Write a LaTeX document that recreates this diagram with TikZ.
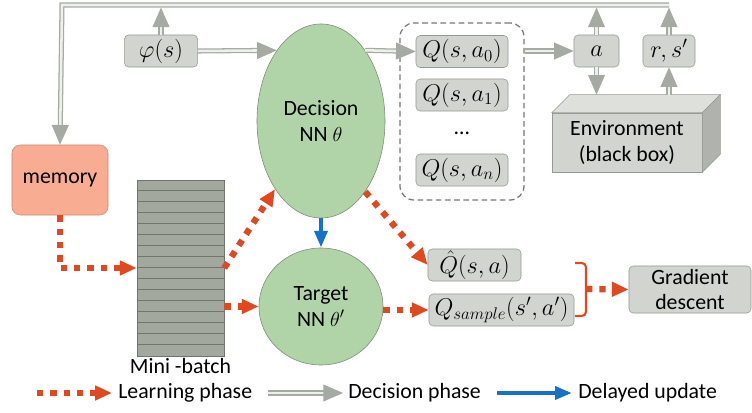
\documentclass[tikz,border=0pt]{standalone}
\usepackage{fontspec}
\setmainfont{Carlito}
\usetikzlibrary{arrows.meta, positioning, shapes.geometric}
\definecolor{boxgray}{RGB}{210,212,208}
\definecolor{boxline}{RGB}{150,153,148}
\definecolor{nngreen}{RGB}{176,211,168}
\definecolor{nnline}{RGB}{128,136,124}
\definecolor{memfill}{RGB}{248,173,146}
\definecolor{memline}{RGB}{196,140,118}
\definecolor{batchfill}{RGB}{163,168,158}
\definecolor{batchline}{RGB}{112,117,110}
\definecolor{lred}{RGB}{226,72,32}
\definecolor{ublue}{RGB}{22,114,200}
\definecolor{dline}{RGB}{165,170,162}
\definecolor{dinner}{RGB}{238,240,236}
\definecolor{envtopc}{RGB}{222,224,220}
\definecolor{envside}{RGB}{176,179,173}

\begin{document}
\begin{tikzpicture}[
    x=0.025cm, y=-0.025cm,
    font=\fontsize{15.5}{18}\selectfont,
    greybox/.style={rectangle, rounded corners=3pt, draw=boxline, fill=boxgray, minimum height=0.8cm, inner sep=1pt, align=center, font=\fontsize{17.5}{20}\selectfont},
    nnnode/.style={ellipse, draw=nnline, fill=nngreen, align=center, inner sep=0pt},
    learn/.style={draw=lred, line width=4.5pt, dash pattern=on 4.5pt off 5pt, -{Triangle[length=12pt,width=10pt]}},
    decide/.style={draw=dline, double=dinner, line width=0.9pt, double distance=1.8pt, -{Triangle[length=14pt,width=12pt,fill=dline]}},
    update/.style={draw=ublue, line width=3pt, -{Triangle[length=12pt,width=9pt]}},
    legendtext/.style={inner sep=0pt, anchor=west}
]
\useasboundingbox (0,0) rectangle (752,413);

% networks
\node[nnnode, minimum width=3.2cm, minimum height=4.85cm] (decision) at (321,121) {Decision\\NN $\theta$};
\node[nnnode, minimum width=3.1cm, minimum height=2.925cm] (target) at (321,306.5) {Target\\NN $\theta'$};

% boxes
\node[greybox, minimum width=1.83cm] (phi) at (161,51) {$\varphi(s)$};
\node[draw=boxline!80!black, dashed, dash pattern=on 4pt off 2.5pt, line width=0.9pt, rounded corners=0.35cm, minimum width=3.1cm, minimum height=4.425cm] (qgroup) at (462,111.5) {};
\node[greybox, minimum width=2.3cm] (q0) at (462,51.5) {$Q(s,a_0)$};
\node[greybox, minimum width=2.3cm] (q1) at (462,95) {$Q(s,a_1)$};
\node (qdots) at (462,133) {\dots};
\node[greybox, minimum width=2.3cm] (qn) at (462,170) {$Q(s,a_n)$};
\node[greybox, minimum width=1.125cm] (act) at (596.5,51) {$a$};
\node[greybox, minimum width=1.3cm] (rs) at (669,51) {$r,s'$};
\node[greybox, minimum width=2.325cm] (qhat) at (474.5,265) {$\hat{Q}(s,a)$};
\node[greybox, minimum width=3.625cm] (qsample) at (501.5,310) {$Q_{sample}(s',a')$};
\node[greybox, minimum width=3.05cm, minimum height=1.175cm, font=\fontsize{15.5}{18}\selectfont] (grad) at (690,289.5) {Gradient\\descent};
\node[rectangle, rounded corners=6pt, draw=memline, fill=memfill, minimum width=2.4cm, minimum height=1.75cm] (memory) at (60,180) {memory};

% environment block
\node[rectangle, draw=boxline, fill=boxgray, minimum width=3.75cm, minimum height=1.475cm, align=center] (env) at (627,142.5) {Environment\\(black box)};
\draw[boxline, fill=envtopc] (env.north west) -- ++(18,-18) coordinate (envbl) -- ([shift={(18,-18)}]env.north east) coordinate (envbr) -- (env.north east) -- cycle;
\draw[boxline, fill=envside] (env.north east) -- (envbr) -- ([shift={(18,-18)}]env.south east) -- (env.south east) -- cycle;

% mini-batch
\node[rectangle, draw=batchline, fill=batchfill, minimum width=2.175cm, minimum height=4.4cm] (batch) at (180.5,268) {};
\foreach \k in {1,...,15}
  \draw[batchline, line width=0.6pt] ([shift={(0,11*\k)}]batch.north west) -- ([shift={(0,11*\k)}]batch.north east);
\node[below=0.05cm of batch, inner sep=0pt] (batchlbl) {Mini -batch};

% decision phase
\coordinate (tl) at (62,5);
\coordinate (busbot) at (62,7.5);
\coordinate (tr) at (rs.north |- tl);
\draw[decide] (phi.north) -- (phi.north |- busbot);
\draw[decide] (act.north) -- (act.north |- busbot);
\draw[decide] (rs.north) -- (rs.north |- busbot);
\draw[decide] (tr) -- (tl) -- (memory.north);
\draw[decide] (phi.east) -- (decision.122);
\draw[decide] (decision.58) -- (q0.west);
\draw[decide] (qgroup.east |- act.west) -- (act.west);
\draw[decide] (act.south) -- (act.south |- envbl);
\draw[decide] (rs.south |- envbl) -- (rs.south);

% learning phase
\draw[learn] (memory.south) |- (batch.west);
\draw[learn] (batch.east) -- (decision.236);
\draw[learn] (batch.east |- target.west) -- (target.west);
\draw[learn] (decision.302) -- (qhat.west);
\draw[learn] (qsample.west -| target.east) -- (qsample.west);
\draw[lred, line width=1.5pt, rounded corners=3pt] (575,263) -| (586,316) -- (575,316);
\coordinate (brmid) at (586,289);
\draw[learn] (brmid) -- (grad.west);

% delayed update
\draw[update] (decision.south) -- (target.north);

% legend
\coordinate (l1a) at (37,393);
\coordinate (l1b) at (112,393);
\draw[learn] (l1a) -- (l1b);
\node[legendtext] (lg1) at (118,393) {Learning phase};
\coordinate (l2a) at (268,393);
\coordinate (l2b) at (343,393);
\draw[decide] (l2a) -- (l2b);
\node[legendtext] (lg2) at (348,393) {Decision phase};
\coordinate (l3a) at (497,393);
\coordinate (l3b) at (572,393);
\draw[update] (l3a) -- (l3b);
\node[legendtext] (lg3) at (578,393) {Delayed update};

\end{tikzpicture}
\end{document}
